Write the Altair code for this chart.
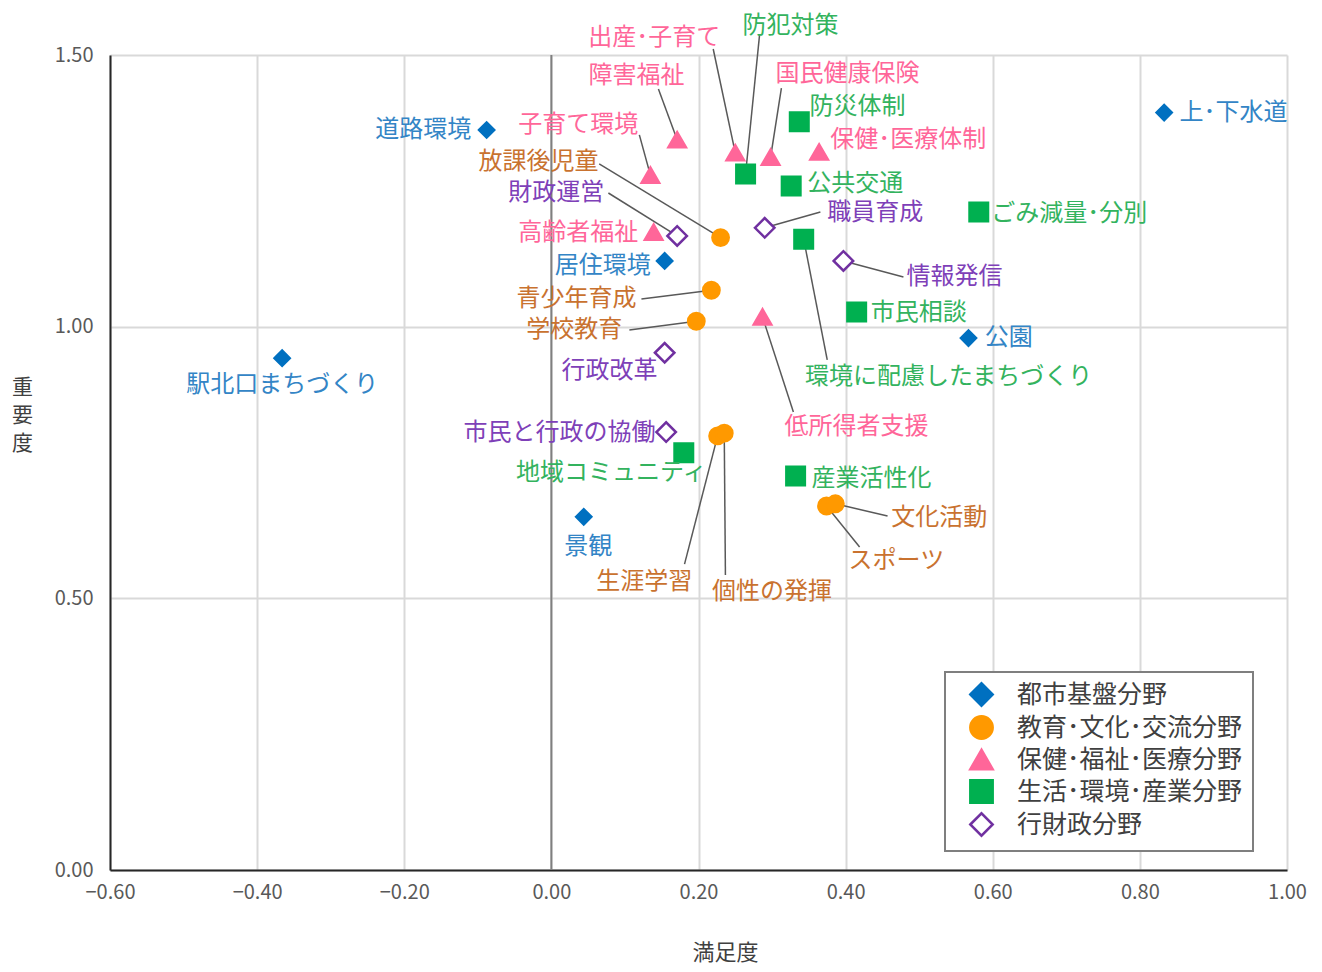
import altair as alt
import pandas as pd

groups = ["都市基盤分野", "教育･文化･交流分野", "保健･福祉･医療分野", "生活･環境･産業分野", "行財政分野"]

names = [
    "上･下水道", "道路環境", "居住環境", "公園", "駅北口まちづくり", "景観",
    "放課後児童", "青少年育成", "学校教育", "生涯学習", "個性の発揮", "スポーツ", "文化活動",
    "障害福祉", "出産･子育て", "国民健康保険", "保健･医療体制", "子育て環境", "高齢者福祉", "低所得者支援",
    "防災体制", "防犯対策", "公共交通", "ごみ減量･分別", "環境に配慮したまちづくり", "市民相談", "地域コミュニティ", "産業活性化",
    "財政運営", "職員育成", "情報発信", "行政改革", "市民と行政の協働",
]
group_index = [0] * 6 + [1] * 7 + [2] * 7 + [3] * 8 + [4] * 5

# 満足度 (x)
satisfaction = [
    0.833, -0.088, 0.154, 0.567, -0.366, 0.044,
    0.230, 0.2175, 0.197, 0.226, 0.235, 0.374, 0.386,
    0.171, 0.250, 0.298, 0.364, 0.1346, 0.139, 0.287,
    0.337, 0.264, 0.326, 0.581, 0.343, 0.415, 0.180, 0.332,
    0.171, 0.290, 0.397, 0.154, 0.156,
]
# 重要度 (y)
importance = [
    1.394, 1.362, 1.121, 0.979, 0.942, 0.650,
    1.164, 1.067, 1.010, 0.799, 0.804, 0.670, 0.674,
    1.344, 1.320, 1.312, 1.3215, 1.279, 1.174, 1.018,
    1.377, 1.281, 1.259, 1.211, 1.161, 1.027, 0.768, 0.725,
    1.167, 1.182, 1.121, 0.952, 0.806,
]

# label anchor positions (data units) and alignment
label_x = [
    0.854, -0.109, 0.135, 0.589, -0.366, 0.050,
    0.064, 0.1156, 0.0965, 0.1264, 0.300, 0.469, 0.462,
    0.1156, 0.140, 0.4025, 0.379, 0.0367, 0.118, 0.4147,
    0.351, 0.325, 0.348, 0.598, 0.540, 0.434, 0.0816, 0.3535,
    0.072, 0.375, 0.4827, 0.0789, 0.1414,
]
label_y = [
    1.393, 1.362, 1.112, 0.979, 0.893, 0.5945,
    1.303, 1.051, 0.994, 0.530, 0.512, 0.569, 0.648,
    1.4614, 1.531, 1.465, 1.344, 1.371, 1.1725, 0.815,
    1.404, 1.553, 1.263, 1.2075, 0.9074, 1.025, 0.7307, 0.7197,
    1.246, 1.209, 1.0915, 0.9185, 0.804,
]
label_align = [
    "left", "right", "right", "left", "center", "center",
    "right", "right", "right", "center", "center", "center", "left",
    "center", "center", "center", "left", "center", "right", "center",
    "left", "center", "left", "left", "center", "left", "center", "left",
    "right", "left", "left", "center", "right",
]
# leader line start (data units); None = no leader
leader_x = [
    None, None, None, None, None, None,
    0.065, 0.1224, 0.106, 0.181, 0.2366, 0.419, 0.457,
    0.1455, 0.220, 0.3127, None, 0.1196, None, 0.329,
    None, 0.283, None, None, 0.375, None, None, None,
    0.0775, 0.3657, 0.4786, None, None,
]
leader_y = [
    None, None, None, None, None, None,
    1.2995, 1.051, 0.994, 0.563, 0.543, 0.5945, 0.6516,
    1.4375, 1.511, 1.439, None, 1.353, None, 0.843,
    None, 1.537, None, None, 0.9387, None, None, None,
    1.246, 1.211, 1.0915, None, None,
]

x_ticks = [-0.6, -0.4, -0.2, 0.0, 0.2, 0.4, 0.6, 0.8, 1.0]
y_ticks = [0.0, 0.5, 1.0, 1.5]

fill_colors = ["#0070C0", "#FF9900", "#FF6699", "#00B050", "#FFFFFF"]
stroke_colors = ["#0070C0", "#FF9900", "#FF6699", "#00B050", "#7030A0"]
text_colors = ["#3385C6", "#C9722F", "#FF6699", "#33B35E", "#7E40B8"]
shapes = ["diamond", "circle", "triangle-up", "square", "diamond"]
sizes = [420, 400, 330, 230, 380]

FONT = "Noto Sans CJK JP"

df = pd.DataFrame({
    "name": names,
    "group": [groups[i] for i in group_index],
    "x": satisfaction,
    "y": importance,
    "lx": label_x,
    "ly": label_y,
    "align": label_align,
    "sx": leader_x,
    "sy": leader_y,
})

xscale = alt.Scale(domain=[-0.6, 1.0], nice=False, zero=False)
yscale = alt.Scale(domain=[0, 1.5], nice=False, zero=False)
xaxis = alt.Axis(
    values=x_ticks, format=".2f", title="満足度", labelFlush=False,
    titleX=615, titleY=82, titleBaseline="middle", titleAlign="center",
)
yaxis = alt.Axis(
    values=y_ticks, format=".2f", title=["重", "要", "度"], titleAngle=0,
    titleX=-88, titleY=332, titleAlign="center", titleBaseline="middle",
    titleLineHeight=28, titleFontSize=21, labelPadding=17,
)


def X(f):
    return alt.X(f, type="quantitative", scale=xscale, axis=xaxis)


def Y(f):
    return alt.Y(f, type="quantitative", scale=yscale, axis=yaxis)


zero_df = pd.DataFrame({"x": [0.0]})
zero_line = alt.Chart(zero_df).mark_rule(color="#7F7F7F", strokeWidth=2).encode(x=X("x"))

leaders = alt.Chart(df).transform_filter("isValid(datum.sx)").mark_rule(
    color="#595959", strokeWidth=1.5
).encode(x=X("sx"), y=Y("sy"), x2="x", y2="y")

legend = alt.Legend(
    title=None, orient="none", legendX=835, legendY=617,
    strokeColor="#7F7F7F", fillColor="#FFFFFF", padding=10,
    symbolSize=500, symbolOffset=14, labelOffset=23, labelFontSize=25,
    labelColor="#404040", labelFont=FONT, rowPadding=0, labelLimit=400,
    symbolStrokeWidth=2.5,
)

# reversed domains for the non-legend scales keep them out of the legend merge
rev_groups = groups[::-1]

points = alt.Chart(df).mark_point(filled=True, opacity=1, strokeWidth=2.5).encode(
    x=X("x"), y=Y("y"),
    fill=alt.Fill("group:N", scale=alt.Scale(domain=groups, range=fill_colors), legend=legend),
    stroke=alt.Stroke("group:N", scale=alt.Scale(domain=groups, range=stroke_colors), legend=legend),
    shape=alt.Shape("group:N", scale=alt.Scale(domain=groups, range=shapes), legend=legend),
    size=alt.Size("group:N", scale=alt.Scale(domain=rev_groups, range=sizes[::-1]), legend=None),
)


def labels(al):
    return alt.Chart(df).transform_filter(alt.datum.align == al).mark_text(
        align=al, baseline="middle", fontSize=24, font=FONT
    ).encode(
        x=X("lx"), y=Y("ly"), text="name:N",
        color=alt.Color("group:N", scale=alt.Scale(domain=rev_groups, range=text_colors[::-1]), legend=None),
    )


chart = alt.layer(
    zero_line, leaders, points, labels("left"), labels("right"), labels("center")
).properties(
    width=1177, height=815, autosize="none",
    padding={"left": 102, "top": 47, "right": 27, "bottom": 94},
).configure_view(stroke=None).configure_axis(
    labelFont=FONT, titleFont=FONT, labelFontSize=20, labelColor="#595959",
    titleFontSize=22, titleColor="#404040", titleFontWeight="normal",
    ticks=False, domainColor="#262626", domainWidth=2,
    gridColor="#D9D9D9", gridWidth=2, labelPadding=12,
).configure_legend(strokeWidth=2)

chart.save("out.html", embed_options={"renderer": "svg", "actions": False})
